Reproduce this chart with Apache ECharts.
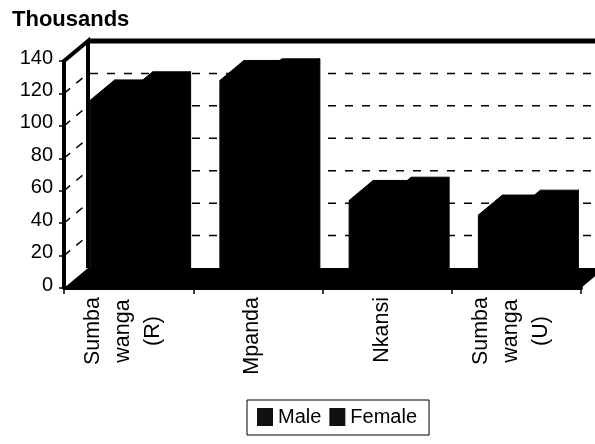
<!DOCTYPE html>
<html>
<head>
<meta charset="utf-8">
<style>html,body{margin:0;background:#fff}#main{width:595px;height:444px}</style>
<script src="https://cdn.jsdelivr.net/npm/echarts@6/dist/echarts.min.js"></script>
</head>
<body>
<div id="main"></div>
<script>
const categories = ['Sumba\nwanga\n(R)', 'Mpanda', 'Nkansi', 'Sumba\nwanga\n(U)'];
const male = [116, 128, 54, 45];
const female = [121, 129, 56, 48];
const yTicks = [20, 40, 60, 80, 100, 120];
const depthX = 24, depthY = -20;
const wallRight = 600;

const chart = echarts.init(document.getElementById('main'));

// one 3d bar: front, top and right side, all black in the scan
function bar3d(slot) {
  return function (params, api) {
    const base = api.coord([api.value(0), 0]);
    const top = api.coord([api.value(0), api.value(1)]);
    const w = 38;
    const x0 = base[0] - w + slot * w;
    const x1 = x0 + w;
    const shape = (points) => ({ type: 'polygon', shape: { points }, style: { fill: '#000', stroke: '#000', lineWidth: 1 } });
    return {
      type: 'group',
      children: [
        shape([[x0, top[1]], [x1, top[1]], [x1, base[1]], [x0, base[1]]]),
        shape([[x0, top[1]], [x0 + depthX, top[1] + depthY], [x1 + depthX, top[1] + depthY], [x1, top[1]]]),
        shape([[x1, top[1]], [x1 + depthX, top[1] + depthY], [x1 + depthX, base[1] + depthY], [x1, base[1]]])
      ]
    };
  };
}

function backWall(params, api) {
  const p = api.coord([0, api.value(0)]);
  const left = params.coordSys.x;
  const y = p[1];
  return {
    type: 'group',
    children: [
      { type: 'line', shape: { x1: left, y1: y, x2: left + depthX, y2: y + depthY }, style: { stroke: '#000', lineWidth: 1.5, lineDash: [8, 8] } },
      { type: 'line', shape: { x1: left + depthX + 2, y1: y + depthY, x2: wallRight, y2: y + depthY }, style: { stroke: '#000', lineWidth: 1.5, lineDash: [8, 9] } }
    ]
  };
}

function frame(params, api) {
  const cs = params.coordSys;
  const bottom = cs.y + cs.height;
  const right = cs.x + cs.width;
  const stroke = { stroke: '#000', lineWidth: 4, fill: 'none' };
  return {
    type: 'group',
    children: [
      { type: 'polygon', shape: { points: [[cs.x, bottom], [right, bottom], [right + depthX, bottom + depthY], [cs.x + depthX, bottom + depthY]] }, style: { fill: '#000' } },
      { type: 'polyline', shape: { points: [[cs.x, bottom], [cs.x, cs.y], [cs.x + depthX, cs.y + depthY], [cs.x + depthX, bottom + depthY]] }, style: stroke },
      { type: 'line', shape: { x1: cs.x + depthX, y1: cs.y + depthY, x2: wallRight, y2: cs.y + depthY }, style: { stroke: '#000', lineWidth: 5 } }
    ]
  };
}

chart.setOption({
  animation: false,
  backgroundColor: '#fff',
  textStyle: { fontFamily: 'Liberation Sans' },
  title: {
    text: 'Thousands', left: 7, top: 4,
    textStyle: { fontSize: 22, fontWeight: 'bold', color: '#000', fontFamily: 'Liberation Sans' }
  },
  legend: {
    show: true, left: 247, top: 400,
    data: ['Male', 'Female'], itemWidth: 16, itemHeight: 18, itemGap: 8, icon: 'rect',
    padding: [7, 12, 8, 10], borderColor: '#000', borderWidth: 1,
    textStyle: { fontSize: 20, color: '#000', fontFamily: 'Liberation Sans', padding: [0, 0, 12, 0] }
  },
  grid: { left: 64, right: 14, top: 61, bottom: 156 },
  xAxis: {
    type: 'category', data: categories,
    axisLine: { lineStyle: { color: '#000', width: 4 } },
    axisTick: { show: true, length: 6, lineStyle: { color: '#000', width: 1.5 } },
    axisLabel: {
      rotate: 90, interval: 0, margin: 9, color: '#000', fontFamily: 'Liberation Sans',
      padding: [0, 0, 11, 0],
      formatter: (v) => v.split('\n').map((s) => '{c|' + s + '}').join('\n'),
      rich: { c: { align: 'center', fontSize: 21.5, lineHeight: 30, color: '#000', fontFamily: 'Liberation Sans' } }
    }
  },
  yAxis: {
    type: 'value', min: 0, max: 140, interval: 20,
    axisLine: { show: false },
    axisTick: { show: true, length: 5, lineStyle: { color: '#000', width: 1.5 } },
    splitLine: { show: false },
    axisLabel: { color: '#000', fontSize: 20, margin: 11, fontFamily: 'Liberation Sans', verticalAlign: 'bottom', lineHeight: 6 }
  },
  series: [
    { type: 'custom', silent: true, z: 1, data: yTicks.map((v) => [v]), renderItem: backWall, encode: { y: 0 } },
    { type: 'custom', silent: true, z: 2, data: [[0]], renderItem: frame, encode: { y: 0 } },
    { name: 'Male', type: 'custom', z: 3, itemStyle: { color: '#111' }, data: male.map((v, i) => [i, v]), renderItem: bar3d(0), encode: { x: 0, y: 1 } },
    { name: 'Female', type: 'custom', z: 4, itemStyle: { color: '#111' }, data: female.map((v, i) => [i, v]), renderItem: bar3d(1), encode: { x: 0, y: 1 } }
  ]
});
</script>
</body>
</html>
